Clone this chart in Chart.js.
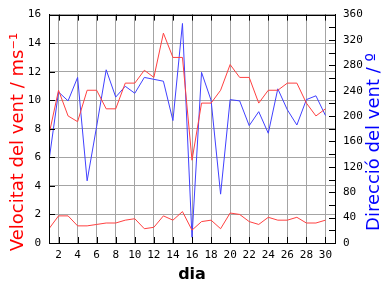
<!DOCTYPE html>
<html>
<head>
<meta charset="utf-8">
<script src="https://cdn.jsdelivr.net/npm/chart.js@4/dist/chart.umd.min.js"></script>
<style>
  html, body { margin: 0; padding: 0; background: #fff; }
  canvas { display: block; }
</style>
</head>
<body>
<canvas id="vent" width="384" height="288"></canvas>
<script>
'use strict'

/* dades del mes */
const dies = [1,2,3,4,5,6,7,8,9,10,11,12,13,14,15,16,17,18,19,20,21,22,23,24,25,26,27,28,29,30];
const velocitatMax = [7.6,10.7,8.9,8.5,10.7,10.7,9.4,9.4,11.2,11.2,12.1,11.6,14.7,13.0,13.0,5.8,9.8,9.8,10.7,12.5,11.6,11.6,9.8,10.7,10.7,11.2,11.2,9.8,8.9,9.4];
const velocitatMitja = [1.0,1.9,1.9,1.2,1.2,1.3,1.4,1.4,1.6,1.7,1.0,1.1,1.9,1.6,2.2,0.9,1.5,1.6,1.0,2.1,2.0,1.5,1.3,1.8,1.6,1.6,1.8,1.4,1.4,1.6];
const direccio = [130,238,224,261,98,184,273,230,247,236,261,258,255,193,346,9,269,225,77,226,224,185,207,173,243,210,186,226,232,201];

const ticksDia = [2,4,6,8,10,12,14,16,18,20,22,24,26,28,30];
const ticksVel = [0,2,4,6,8,10,12,14,16];
const ticksDir = [0,20,40,60,80,100,120,140,160,180,200,220,240,260,280,300,320,340,360];

const vermell = '#ff4040';
const blau = '#4040ff';
const gris = '#a4a4a4';
const fontTicks = { family: 'DejaVu Sans Mono', size: 11 };

function punts(valors){
  return valors.map((v, i) => ({ x: dies[i], y: v }));
}

function fixaTicks(llista){
  return function(scale){
    scale.ticks = llista.map(v => ({ value: v }));
  };
}

// marques petites cap a dins, marc negre i titols laterals
const marc = {
  id: 'marc',
  afterDraw(chart){
    const ctx = chart.ctx;
    const a = chart.chartArea;
    const sx = chart.scales.x, sy = chart.scales.y, sd = chart.scales.dir;
    const px = v => Math.round(v) + 0.5;
    const L = 6;
    ctx.save();
    ctx.strokeStyle = '#000';
    ctx.lineWidth = 1;
    ctx.beginPath();
    ticksDia.forEach(d => {
      const x = px(sx.getPixelForValue(d));
      ctx.moveTo(x, a.bottom); ctx.lineTo(x, a.bottom - L);
      ctx.moveTo(x, a.top); ctx.lineTo(x, a.top + L);
    });
    ticksVel.forEach(v => {
      const y = px(sy.getPixelForValue(v));
      ctx.moveTo(a.left, y); ctx.lineTo(a.left + L, y);
    });
    ticksDir.forEach(v => {
      const y = px(sd.getPixelForValue(v));
      ctx.moveTo(a.right, y); ctx.lineTo(a.right - L, y);
    });
    ctx.stroke();
    ctx.strokeRect(px(a.left), px(a.top), Math.round(a.right - a.left), Math.round(a.bottom - a.top));

    ctx.font = '18px "DejaVu Sans"';
    ctx.textAlign = 'center';
    ctx.textBaseline = 'alphabetic';

    ctx.save();
    ctx.translate(23, 142);
    ctx.rotate(-Math.PI / 2);
    ctx.fillStyle = '#ff0000';
    ctx.fillText('Velocitat del vent / ms\u207B\u00B9', 0, 0);
    ctx.restore();

    ctx.save();
    ctx.translate(379, 142);
    ctx.rotate(-Math.PI / 2);
    ctx.fillStyle = '#0000ff';
    ctx.fillText('Direcció del vent / º', 0, 0);
    ctx.restore();

    ctx.restore();
  }
};

const ctxVent = document.getElementById('vent').getContext('2d');

const chart = new Chart(ctxVent, {
  type: 'line',
  data: {
    datasets: [{
      label: 'Velocitat màxima',
      data: punts(velocitatMax),
      borderColor: vermell,
      yAxisID: 'y'
    }, {
      label: 'Velocitat mitjana',
      data: punts(velocitatMitja),
      borderColor: vermell,
      yAxisID: 'y'
    }, {
      label: 'Direcció',
      data: punts(direccio),
      borderColor: blau,
      yAxisID: 'dir'
    }]
  },
  options: {
    responsive: false,
    animation: false,
    devicePixelRatio: 1,
    layout: { padding: { top: 14, left: 0, right: 0, bottom: 0 } },
    elements: {
      point: { radius: 0 },
      line: { borderWidth: 1, tension: 0, fill: false }
    },
    plugins: {
      legend: { display: false },
      tooltip: { enabled: false }
    },
    scales: {
      x: {
        type: 'linear',
        position: 'bottom',
        min: 1,
        max: 31,
        afterBuildTicks: fixaTicks(ticksDia),
        afterFit: s => { s.height = 45; },
        ticks: { font: fontTicks, color: '#000', padding: 6, maxRotation: 0, autoSkip: false },
        grid: { color: gris, drawTicks: false },
        border: { color: '#000' },
        title: {
          display: true,
          text: 'dia',
          color: '#000',
          font: { family: 'DejaVu Sans', size: 16, weight: 'bold' },
          padding: { top: 0, bottom: 4 }
        }
      },
      y: {
        type: 'linear',
        position: 'left',
        min: 0,
        max: 16,
        afterBuildTicks: fixaTicks(ticksVel),
        afterFit: s => { s.width = 49; },
        ticks: { font: fontTicks, color: '#000', padding: 8 },
        grid: { color: gris, drawTicks: false },
        border: { color: '#000' }
      },
      dir: {
        type: 'linear',
        position: 'right',
        min: 0,
        max: 360,
        afterBuildTicks: fixaTicks(ticksDir),
        afterFit: s => { s.width = 49; },
        ticks: { font: fontTicks, color: '#000', padding: 8 },
        grid: { drawOnChartArea: false, drawTicks: false },
        border: { color: '#000' }
      }
    }
  },
  plugins: [marc]
});
</script>
</body>
</html>
